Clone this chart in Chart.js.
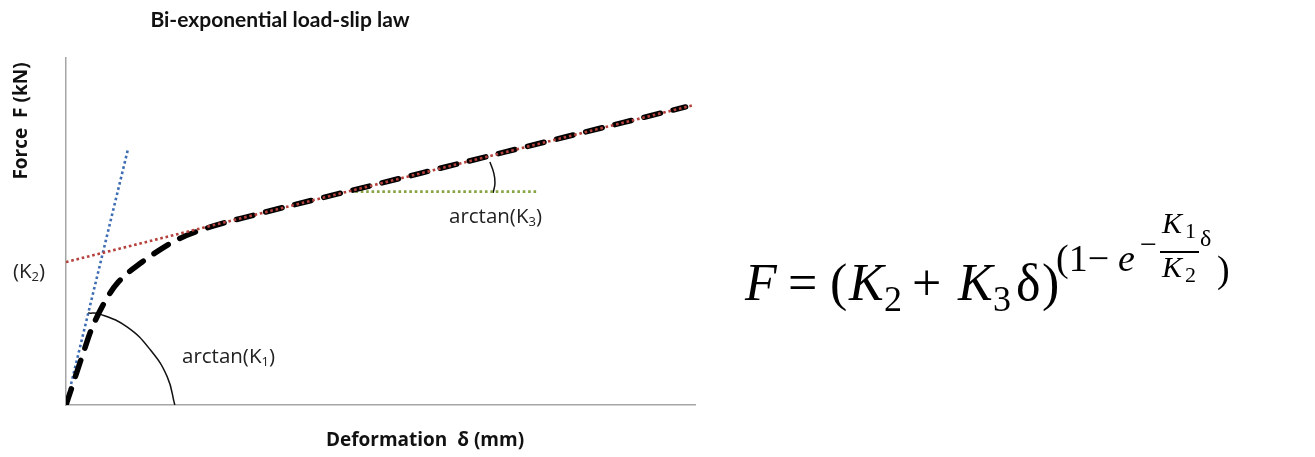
<!DOCTYPE html>
<html>
<head>
<meta charset="utf-8">
<script src="https://cdn.jsdelivr.net/npm/chart.js@4.4.0/dist/chart.umd.min.js"></script>
<style>
  html, body { margin: 0; padding: 0; background: #fff; }
  #wrap { width: 1315px; height: 457px; }
</style>
</head>
<body>
<div id="wrap"><canvas id="load-slip-chart" width="1315" height="457"></canvas></div>
<script>
// Values (deformation on x, force on y, arbitrary units 0..10)
const curveX = [0, 0.095, 0.30, 0.40, 0.65, 0.83, 1.21, 1.49, 1.76, 2.24, 3.0, 5.0, 7.0, 9.85];
const curveY = [0, 0.52, 1.64, 2.16, 3.08, 3.54, 4.12, 4.47, 4.76, 5.10, 5.48, 6.39, 7.30, 8.59];

const initialX = [0, 0.99];          // slope K1
const initialY = [0, 7.41];
const asymptoteX = [0, 9.95];        // intercept K2, slope K3
const asymptoteY = [4.12, 8.63];
const horizontalX = [4.6, 7.5];
const horizontalY = [6.15, 6.15];

const arcK1X = [0.35, 0.54, 0.97, 1.34, 1.61, 1.73];
const arcK1Y = [2.65, 2.62, 2.25, 1.59, 0.81, 0.0];
const arcK3X = [6.74, 6.80, 6.82, 6.79];
const arcK3Y = [7.0, 6.69, 6.40, 6.11];

const axisMin = 0;
const axisMax = 10;

const toPoints = (xs, ys) => xs.map((x, i) => ({ x: x, y: ys[i] }));

function drawRuns(ctx, x, y, runs) {
  runs.forEach(r => {
    ctx.font = r.font;
    ctx.fillText(r.t, x, y + (r.dy || 0));
    x += ctx.measureText(r.t).width;
  });
}

// Text drawn on top of the chart (title, axis names, angle labels, formula)
const textPlugin = {
  id: 'textPlugin',
  afterDraw(chart) {
    const ctx = chart.ctx;
    const sans = '"Open Sans", Lato, sans-serif';
    const serif = '"Liberation Serif", "DejaVu Serif", serif';
    ctx.save();
    ctx.fillStyle = '#111';

    // title
    ctx.textAlign = 'center';
    ctx.textBaseline = 'middle';
    ctx.font = 'bold 21px Lato, sans-serif';
    ctx.fillText('Bi-exponential load-slip law', 280, 20);

    // axis titles
    ctx.font = 'bold 19px ' + sans;
    ctx.fillText('Deformation  \u03b4 (mm)', 425, 441);
    ctx.save();
    ctx.translate(22, 121);
    ctx.rotate(-Math.PI / 2);
    ctx.fillText('Force  F (kN)', 0, 0);
    ctx.restore();

    // labels
    ctx.textAlign = 'left';
    ctx.textBaseline = 'alphabetic';
    ctx.fillStyle = '#222';
    const lab = '20.5px ' + sans, labSub = '13px ' + sans;
    drawRuns(ctx, 13, 278, [
      { t: '(K', font: lab }, { t: '2', font: labSub, dy: 3 }, { t: ')', font: lab }
    ]);
    drawRuns(ctx, 182, 363, [
      { t: 'arctan(K', font: lab }, { t: '1', font: labSub, dy: 3 }, { t: ')', font: lab }
    ]);
    drawRuns(ctx, 449, 223, [
      { t: 'arctan(K', font: lab }, { t: '3', font: labSub, dy: 3 }, { t: ')', font: lab }
    ]);

    // formula
    ctx.fillStyle = '#000';
    const big = '52px ' + serif, bigI = 'italic 52px ' + serif;
    const sub = '36px ' + serif;
    const sup = '38px ' + serif, supI = 'italic 38px ' + serif;
    const sm = '30px ' + serif, smI = 'italic 30px ' + serif, tiny = '22px ' + serif;
    const pieces = [
      ['F', bigI, 745, 300], ['=', big, 788, 300], ['(', big, 830, 300],
      ['K', bigI, 849, 300], ['2', sub, 884, 311], ['+', big, 912, 300],
      ['K', bigI, 958, 300], ['3', sub, 993, 311], ['\u03b4', big, 1016, 300],
      [')', big, 1042, 300],
      ['(1\u2212', sup, 1056, 271], ['e', supI, 1118, 271],
      ['\u2212', sm, 1140, 254],
      ['K', smI, 1162, 233], ['1', tiny, 1185, 238],
      ['K', smI, 1162, 277], ['2', tiny, 1185, 282],
      ['\u03b4', '24px ' + serif, 1200, 246],
      [')', sup, 1217, 282]
    ];
    pieces.forEach(p => {
      ctx.font = p[1];
      ctx.fillText(p[0], p[2], p[3]);
    });
    ctx.fillRect(1160, 251, 39, 2);
    ctx.restore();
  }
};

const ctx = document.getElementById('load-slip-chart').getContext('2d');
new Chart(ctx, {
  type: 'scatter',
  data: {
    datasets: [
      {
        label: 'asymptote',
        data: toPoints(asymptoteX, asymptoteY),
        showLine: true,
        borderColor: '#b5413c',
        borderWidth: 2.6,
        borderDash: [2.6, 2.8],
        pointRadius: 0,
        order: 0
      },
      {
        label: 'load-slip curve',
        data: toPoints(curveX, curveY),
        showLine: true,
        borderColor: '#000',
        borderWidth: 5.5,
        borderDash: [17, 13],
        borderCapStyle: 'round',
        cubicInterpolationMode: 'monotone',
        pointRadius: 0,
        order: 1
      },
      {
        label: 'initial stiffness',
        data: toPoints(initialX, initialY),
        showLine: true,
        borderColor: '#3e6db3',
        borderWidth: 2.6,
        borderDash: [2.6, 2.8],
        pointRadius: 0,
        order: 2
      },
      {
        label: 'horizontal',
        data: toPoints(horizontalX, horizontalY),
        showLine: true,
        borderColor: '#86a444',
        borderWidth: 2.6,
        borderDash: [2.6, 2.8],
        pointRadius: 0,
        order: 3
      },
      {
        label: 'angle K1',
        data: toPoints(arcK1X, arcK1Y),
        showLine: true,
        borderColor: '#111',
        borderWidth: 1.5,
        tension: 0.45,
        pointRadius: 0,
        order: 4
      },
      {
        label: 'angle K3',
        data: toPoints(arcK3X, arcK3Y),
        showLine: true,
        borderColor: '#111',
        borderWidth: 1.5,
        tension: 0.45,
        pointRadius: 0,
        order: 5
      }
    ]
  },
  options: {
    responsive: false,
    animation: false,
    devicePixelRatio: 1,
    layout: { padding: { left: 66, right: 620, top: 58, bottom: 52 } },
    plugins: { legend: { display: false }, tooltip: { enabled: false } },
    scales: {
      x: {
        type: 'linear', min: axisMin, max: axisMax,
        grid: { display: false, drawTicks: false },
        border: { display: true, color: '#a6a6a6', width: 1.5 },
        ticks: { display: false },
        afterFit: s => { s.height = 0; }
      },
      y: {
        type: 'linear', min: axisMin, max: axisMax,
        grid: { display: false, drawTicks: false },
        border: { display: true, color: '#a6a6a6', width: 1.5 },
        ticks: { display: false },
        afterFit: s => { s.width = 0; }
      }
    }
  },
  plugins: [textPlugin]
});
</script>
</body>
</html>
